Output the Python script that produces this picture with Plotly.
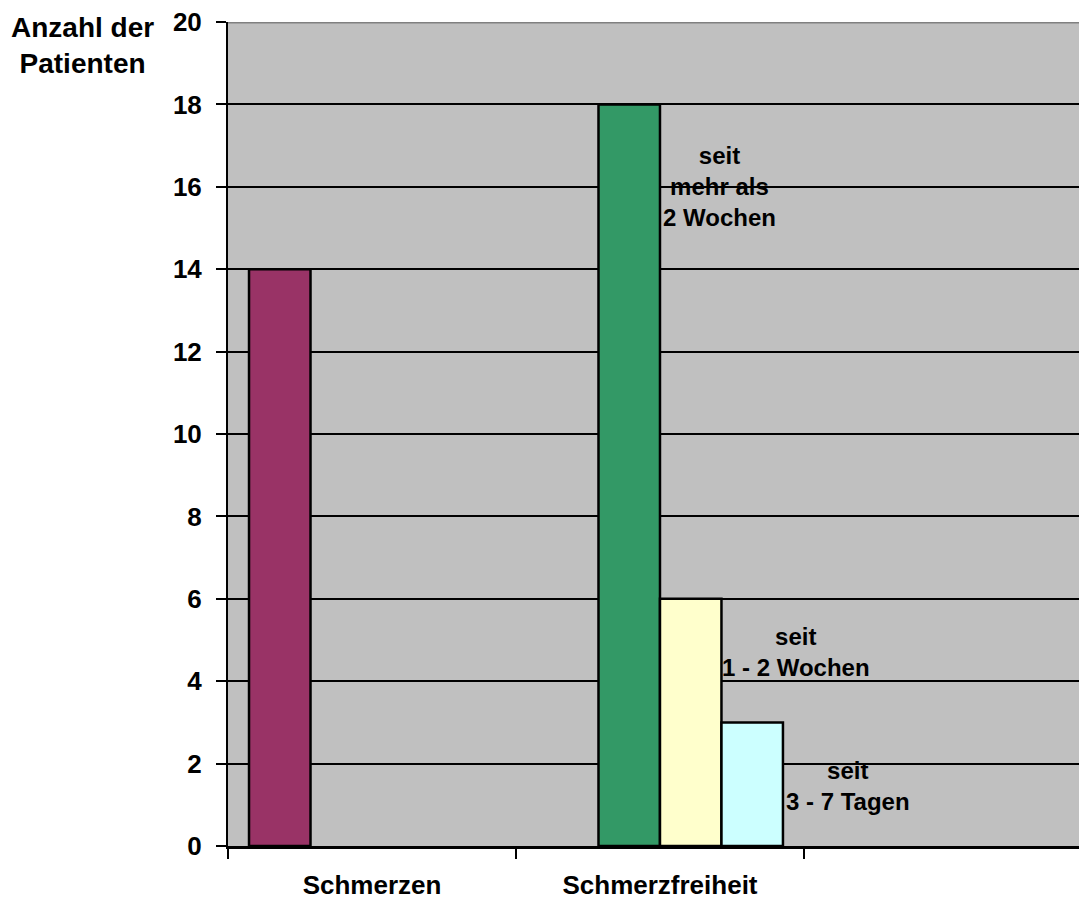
import plotly.graph_objects as go

# Categories on the x axis
categories = ["Schmerzen", "Schmerzfreiheit"]

# Patient counts per series (None = no bar in that group)
schmerzen = [14, None]
frei_mehr_als_2_wochen = [None, 18]
frei_1_2_wochen = [None, 6]
frei_3_7_tage = [None, 3]

# Texts beside the pain-free bars
label_texts = ["seit<br>mehr als<br>2 Wochen", "seit<br>1 - 2 Wochen", "seit<br>3 - 7 Tagen"]
y_title = "Anzahl der<br>Patienten"

FONT = "Liberation Sans, Arial, sans-serif"
positions = list(range(len(categories)))

series = [
    (schmerzen, "#993366"),
    (frei_mehr_als_2_wochen, "#339966"),
    (frei_1_2_wochen, "#FFFFCC"),
    (frei_3_7_tage, "#CCFFFF"),
]

fig = go.Figure()
for values, color in series:
    fig.add_trace(go.Bar(
        x=positions, y=values,
        marker=dict(color=color, line=dict(color="black", width=2.5)),
        showlegend=False,
    ))

fig.update_layout(
    width=1079, height=901,
    margin=dict(l=228, r=0, t=22, b=55),
    paper_bgcolor="white",
    plot_bgcolor="#C0C0C0",
    barmode="group",
    bargap=0.146,
    bargroupgap=0,
    font=dict(family=FONT, color="black"),
)

fig.update_xaxes(
    range=[-0.5, 2.455],
    tickvals=positions,
    ticktext=categories,
    ticks="",
    tickfont=dict(size=26, weight="bold", family=FONT),
    ticklabelstandoff=14,
    minor=dict(tickvals=[-0.5, 0.5, 1.5], ticks="outside", ticklen=10,
               tickwidth=2, tickcolor="black", showgrid=False),
    showgrid=False,
    zeroline=False,
    showline=True, linecolor="black", linewidth=3,
    automargin=False,
    fixedrange=True,
)

fig.update_yaxes(
    range=[0, 20],
    dtick=2,
    ticks="outside", ticklen=10, tickwidth=2, tickcolor="black",
    tickfont=dict(size=26, weight="bold", family=FONT),
    ticklabelstandoff=9,
    showgrid=True, gridcolor="black", gridwidth=2,
    zeroline=False,
    showline=True, linecolor="black", linewidth=2,
    automargin=False,
    fixedrange=True,
)

# Top border of the plot area
fig.add_shape(type="line", xref="paper", yref="y", x0=0, x1=1, y0=20, y1=20,
              line=dict(color="#808080", width=3), layer="above")

# Labels describing how long the patients have been pain-free
label_xy = [(1.205, 16.0), (1.472, 4.7), (1.653, 1.45)]
for text, (lx, ly) in zip(label_texts, label_xy):
    fig.add_annotation(x=lx, y=ly, text=text, showarrow=False,
                       font=dict(size=24, weight="bold", family=FONT, color="black"),
                       align="center", xanchor="center", yanchor="middle")

# Y axis title, horizontal, left of the top tick
fig.add_annotation(xref="paper", yref="paper", x=(82 - 228) / 851, y=1 - 23 / 824,
                   text=y_title, showarrow=False,
                   font=dict(size=28, weight="bold", family=FONT, color="black"),
                   align="center", xanchor="center", yanchor="middle")

fig.write_html("out.html")
